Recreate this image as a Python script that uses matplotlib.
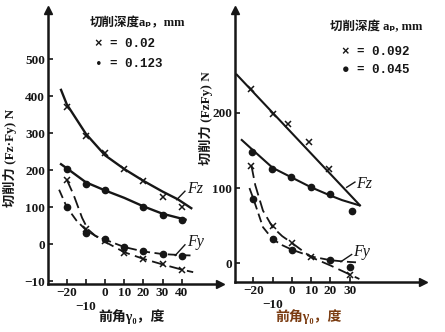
import matplotlib
matplotlib.use("Agg")
import matplotlib.pyplot as plt

plt.rcParams['font.family'] = ['Liberation Serif', 'Noto Sans CJK SC', 'DejaVu Sans']

# ---- 左图: 切削深度 0.02 / 0.123 mm ----
ang_l = [-20, -10, 0, 10, 20, 30, 40]
fz_x_l = [372, 293, 245, 203, 170, 128, 100]
fz_o_l = [203, 162, 145, None, 100, 78, 65]
fy_x_l = [174, 40, 8, -24, -40, -55, -70]
fy_o_l = [100, 31, 13, -9, -20, -28, -31]

# 拟合曲线
cfz_x_l = ([-23, -20, -10, 0, 10, 20, 30, 38, 45], [417, 378, 298, 240, 203, 171, 142, 121, 97])
cfz_o_l = ([-23, -20, -10, 0, 10, 20, 30, 42], [216, 205, 167, 145, 125, 102, 82, 66])
cfy_x_l = ([-20, -16.5, -12, -9, -5, 0, 10, 20, 30, 40, 46], [174, 134, 71, 40, 22, 6, -22, -40, -55, -69, -76])
cfy_o_l = ([-24, -20, -15, -10, -5, 0, 10, 20, 30, 40, 46], [147, 100, 64, 38, 22, 12, -8, -20, -27, -30, -31])

# ---- 右图: 切削深度 0.092 / 0.045 mm ----
ang_fz_x_r = [-21, -10, -2, 9, 19]
fz_x_r = [232, 199, 185, 161, 126]
ang_fz_o_r = [-20.5, -10.5, -0.5, 10, 20, 31]
fz_o_r = [148, 125, 115, 101, 92, 69]
ang_fy_x_r = [-21, -10, 0, 10, 30]
fy_x_r = [130, 50, 27, 8, -16]
ang_fy_o_r = [-20, -10, 0, 20, 30]
fy_o_r = [86, 32, 18, 4, -5]

cfz_x_r = ([-28.6, 35.3], [251, 77])
cfz_o_r = ([-26, -20, -10, 0, 10, 20, 26, 35], [164, 150, 127, 114, 101, 90, 84, 77])
cfy_x_r = ([-21, -19, -15, -10, -5, 0, 10, 20, 30, 35], [130, 104, 70, 48, 36, 27, 8, -3, -15, -21])
cfy_o_r = ([-22, -20, -15, -10, -5, 0, 10, 20, 28, 34.5], [100, 86, 48, 32, 24, 18, 9, 4, 2, 1])

INK = '#161616'


def fx(x):
    return x / 445


def fy(y):
    return 1 - y / 332


def setup_axis(ax, xlim, ylim, yticks, ylabels, xticks, xlabels):
    ax.set_xlim(xlim)
    ax.set_ylim(ylim)
    ax.patch.set_alpha(0)
    for s in ['top', 'right']:
        ax.spines[s].set_visible(False)
    for s in ['left', 'bottom']:
        ax.spines[s].set_linewidth(1.8)
        ax.spines[s].set_color(INK)
    ax.set_yticks(yticks, ylabels, fontweight='bold')
    ax.set_xticks(xticks, xlabels, fontweight='bold')
    ax.tick_params(direction='in', length=3.5, width=1.2, labelsize=9.5,
                   pad=2, colors=INK)
    ax.xaxis.get_major_ticks()[1].set_pad(12)
    ax.plot(0, 1, '^', transform=ax.transAxes, clip_on=False, color=INK, ms=6)
    ax.plot(1, 0, '>', transform=ax.transAxes, clip_on=False, color=INK, ms=6)


def draw_points(ax, xs, ys, marker):
    pts = [(a, b) for a, b in zip(xs, ys) if b is not None]
    px_, py_ = zip(*pts)
    if marker == 'x':
        ax.plot(px_, py_, 'x', color=INK, ms=4, mew=1.1, clip_on=False)
    else:
        ax.plot(px_, py_, 'o', color=INK, ms=4.5, clip_on=False)


fig = plt.figure(figsize=(4.45, 3.32), dpi=100)

# 左图
axl = fig.add_axes([fx(48), fy(284), fx(220) - fx(48), fy(10) - fy(284)])
setup_axis(axl, (-29.8, 60), (-108, 633),
           [500, 400, 300, 200, 100, 0, -100],
           ['500', '400', '300', '200', '100', '0', '−10'],
           [-20, -10, 0, 10, 20, 30, 40],
           ['−20', '−10', '0', '10', '20', '30', '40'])

axl.plot(*cfz_x_l, '-', color=INK, lw=1.7)
axl.plot(*cfz_o_l, '-', color=INK, lw=1.7)
axl.plot(*cfy_x_l, color=INK, lw=1.3, ls=(0, (7, 3)))
axl.plot(*cfy_o_l, color=INK, lw=1.3, ls=(0, (5, 2.5)))
draw_points(axl, ang_l, fz_x_l, 'x')
draw_points(axl, ang_l, fz_o_l, 'o')
draw_points(axl, ang_l, fy_x_l, 'x')
draw_points(axl, ang_l, fy_o_l, 'o')

axl.plot([37.4, 41.7], [120, 143], color=INK, lw=1)
axl.plot([36.6, 41.7], [-31, -2], color=INK, lw=1)
axl.text(43, 148, 'Fz', fontsize=11.5, style='italic', color=INK, va='center')
axl.text(43, 5, 'Fy', fontsize=11.5, style='italic', color=INK, va='center')

# 右图
axr = fig.add_axes([fx(235), fy(282), fx(423) - fx(235), fy(10) - fy(282)])
setup_axis(axr, (-29.5, 68), (-25, 337),
           [200, 100, 0], ['200', '100', '0'],
           [-20, -10, 0, 10, 20, 30],
           ['−20', '−10', '0', '10', '20', '30'])

axr.plot(*cfz_x_r, '-', color=INK, lw=1.5)
axr.plot(*cfz_o_r, '-', color=INK, lw=1.5)
axr.plot(*cfy_x_r, color=INK, lw=1.3, ls=(0, (7, 3)))
axr.plot(*cfy_o_r, color=INK, lw=1.3, ls=(0, (5, 2.5)))
draw_points(axr, ang_fz_x_r, fz_x_r, 'x')
draw_points(axr, ang_fz_o_r, fz_o_r, 'o')
draw_points(axr, ang_fy_x_r, fy_x_r, 'x')
draw_points(axr, ang_fy_o_r, fy_o_r, 'o')

axr.plot([28.4, 32.7], [101, 108], color=INK, lw=1)
axr.plot([25.4, 31], [2, 11.6], color=INK, lw=1)
axr.text(33.5, 105, 'Fz', fontsize=11.5, style='italic', color=INK, va='center')
axr.text(32, 15, 'Fy', fontsize=11.5, style='italic', color=INK, va='center')

# 图例文字
fig.text(fx(90), fy(23), '切削深度aₚ，mm', fontsize=9, fontweight='bold',
         color=INK, va='center')
fig.text(fx(95), fy(44), '× = 0.02', fontsize=9, fontweight='bold',
         family=['Liberation Mono', 'DejaVu Sans'], color=INK, va='center')
fig.text(fx(95), fy(64), '• = 0.123', fontsize=9, fontweight='bold',
         family=['Liberation Mono', 'DejaVu Sans'], color=INK, va='center')

fig.text(fx(330), fy(27), '切削深度 aₚ, mm', fontsize=9, fontweight='bold',
         color=INK, va='center')
fig.text(fx(342), fy(52), '× = 0.092', fontsize=9, fontweight='bold',
         family=['Liberation Mono', 'DejaVu Sans'], color=INK, va='center')
fig.text(fx(342), fy(70), '● = 0.045', fontsize=9, fontweight='bold',
         family=['Liberation Mono', 'DejaVu Sans'], color=INK, va='center')

# 坐标轴标题
fig.text(fx(10), fy(158), '切削力 (Fz·Fy) N', rotation=90, fontsize=9.5,
         fontweight='bold', color=INK, ha='center', va='center')
fig.text(fx(206), fy(118), '切削力 (FzFy) N', rotation=90, fontsize=9.5,
         fontweight='bold', color=INK, ha='center', va='center')
fig.text(fx(132), fy(317), '前角γ₀，度', fontsize=10, fontweight='bold',
         color=INK, ha='center', va='center')
fig.text(fx(309), fy(317), '前角γ₀，度', fontsize=10, fontweight='bold',
         color='#7a3b10', ha='center', va='center')

fig.savefig('out.png', dpi=100, facecolor='white')
